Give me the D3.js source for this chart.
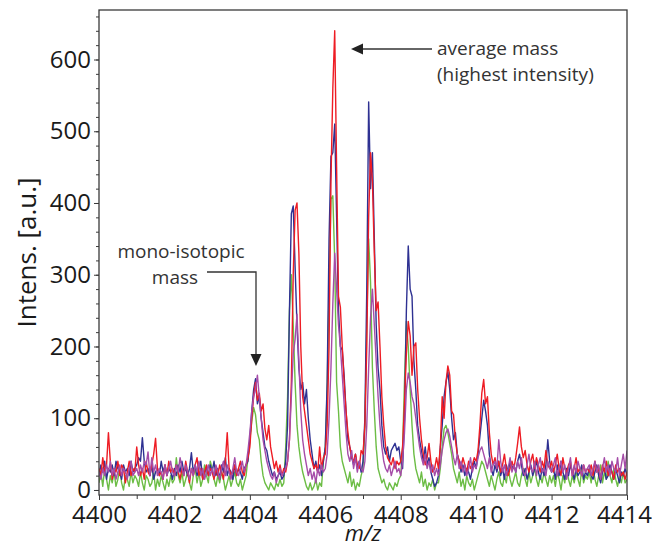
<!DOCTYPE html>
<html>
<head>
<meta charset="utf-8">
<script src="https://cdn.jsdelivr.net/npm/d3@7"></script>
<style>
  html, body { margin: 0; padding: 0; background: #fff; }
  svg { display: block; font-family: "Open Sans", "Noto Sans", sans-serif; }
</style>
</head>
<body>
<div id="chart"></div>
<script>
// MALDI spectrum, four overlaid replicates
// m/z sampling grid: start + step * index
const mzStart = 4400;
const mzStep = 0.05;

const redValues = [
  30,20,45,25,35,80,40,15,30,25,40,20,35,30,10,25,40,20,30,25,
  60,35,20,30,15,40,25,20,35,50,72,30,20,25,15,35,20,40,25,30,
  20,35,25,15,30,20,40,25,10,30,20,35,45,20,30,15,25,35,20,30,
  25,15,30,20,35,25,15,40,80,30,20,25,35,20,30,40,25,20,35,45,
  60,100,130,150,125,135,110,120,85,70,90,60,45,30,40,25,35,20,30,25,
  40,70,150,300,390,400,330,200,130,110,90,70,50,40,30,35,25,60,30,45,
  50,90,200,430,560,640,450,270,255,200,150,110,80,60,45,40,50,35,30,55,
  50,90,200,380,470,430,330,250,262,200,130,90,60,45,40,35,45,30,40,35,
  40,60,120,190,235,215,160,200,205,140,100,70,50,35,45,65,40,25,30,45,
  30,60,130,100,150,173,160,110,105,70,50,40,30,45,35,25,40,30,35,45,
  40,55,90,135,154,120,130,80,50,35,45,30,40,25,35,50,30,20,30,40,
  30,45,65,88,60,45,55,35,25,40,50,30,45,35,25,40,30,55,35,30,
  40,25,35,50,30,20,45,30,25,35,40,20,30,45,25,30,20,35,25,30,
  25,35,20,40,25,30,15,35,25,40,20,30,25,15,35,25,30,20,25,15,
  25
];

const blueValues = [
  20,35,25,40,15,30,25,35,20,40,30,25,15,35,25,30,20,40,25,30,
  35,45,40,73,40,25,30,20,35,15,25,30,20,40,25,35,20,30,25,15,
  30,20,35,25,40,25,30,20,30,52,25,35,20,30,40,15,25,30,20,35,
  25,40,20,30,15,35,25,45,20,30,25,15,35,20,30,25,15,30,35,40,
  70,110,140,155,120,130,100,80,60,55,40,30,20,25,15,20,25,15,20,40,
  90,250,385,396,310,230,170,140,150,120,140,100,70,50,30,40,25,35,20,40,
  60,150,350,465,470,510,380,250,200,195,160,110,70,60,45,35,50,30,40,25,
  40,100,280,541,420,470,350,230,170,140,90,60,50,60,40,55,60,65,55,60,
  40,30,100,250,340,280,270,180,140,90,70,55,40,60,35,45,25,15,5,10,
  20,60,90,130,150,165,140,100,70,80,50,40,25,35,20,30,25,15,30,40,
  30,50,75,100,125,110,90,50,30,20,35,25,40,20,30,15,35,25,40,30,
  35,25,40,50,35,20,30,15,25,35,20,30,40,25,15,30,20,35,70,40,
  25,30,15,35,20,40,25,15,30,20,35,25,15,30,20,25,35,15,25,20,
  30,20,15,25,35,20,10,25,30,15,20,35,25,15,30,20,10,25,20,30,
  20
];

const greenValues = [
  10,25,5,30,15,0,20,10,25,5,15,30,10,0,20,15,5,25,10,20,
  15,5,25,10,0,20,15,5,10,25,0,15,5,20,10,0,15,5,20,10,
  15,45,20,10,25,5,15,25,10,0,20,30,10,25,5,15,35,20,10,40,
  30,15,5,20,10,25,15,0,10,20,5,15,25,10,5,15,0,10,20,45,
  70,95,115,105,80,70,40,20,10,5,0,10,5,0,10,5,15,5,10,60,
  130,250,300,230,150,90,60,40,25,15,5,0,10,0,5,15,0,10,5,40,
  60,140,280,405,410,320,150,110,60,40,30,20,10,25,5,15,0,10,5,20,
  30,90,230,350,290,170,110,60,30,20,10,15,5,0,10,5,0,10,5,15,
  20,60,150,235,200,140,90,50,30,20,10,25,5,15,0,10,5,15,0,10,
  10,30,60,85,90,80,65,50,30,20,10,25,5,15,0,20,10,5,15,0,
  10,20,30,40,35,25,15,5,20,10,0,15,25,10,5,20,10,30,15,5,
  15,25,10,5,20,30,15,5,25,10,20,30,15,5,20,10,25,15,5,20,
  10,20,5,25,15,0,20,10,30,15,5,20,10,25,15,5,30,10,20,15,
  25,10,30,15,5,20,35,10,25,15,40,20,10,30,15,5,20,10,25,10,
  15
];

const purpleValues = [
  25,15,30,20,35,25,40,20,30,15,25,35,20,30,25,15,30,40,20,25,
  30,20,35,25,40,35,53,20,45,25,35,20,30,25,15,35,20,30,40,25,
  20,35,25,45,30,20,35,25,15,30,20,35,25,40,20,30,15,25,35,20,
  30,20,35,25,15,30,40,20,35,25,15,30,45,25,20,30,40,25,35,55,
  80,110,130,140,160,130,100,70,55,40,30,20,15,25,10,20,30,20,25,30,
  40,70,130,190,210,245,180,110,70,50,35,20,30,15,25,10,30,20,35,25,
  30,50,100,170,260,330,280,230,200,160,120,80,50,40,55,30,45,25,40,30,
  25,40,90,170,240,280,230,180,130,90,60,40,30,25,35,20,30,40,25,30,
  20,40,80,140,163,150,130,120,100,80,60,45,35,50,30,40,25,35,20,30,
  20,35,55,70,80,85,75,60,45,35,50,30,40,25,35,20,30,45,25,35,
  30,45,55,60,50,40,30,45,25,35,40,30,70,40,25,35,20,30,45,25,
  35,25,40,30,45,25,20,35,50,30,25,40,20,35,45,25,30,20,40,30,
  25,35,45,20,30,40,25,35,15,30,45,20,35,25,40,30,20,35,25,30,
  35,20,30,40,25,35,15,30,45,25,35,20,40,30,25,45,20,35,50,30,
  55
];

const xTicks = [4400, 4402, 4404, 4406, 4408, 4410, 4412, 4414];
const xMinorTicks = [4401, 4403, 4405, 4407, 4409, 4411, 4413];
const yTicks = [0, 100, 200, 300, 400, 500, 600];
const yMinorStep = 20;

// drawing order: first drawn ends up underneath
const series = [
  { name: 'green', color: '#6cbd45', values: greenValues },
  { name: 'blue', color: '#2e3192', values: blueValues },
  { name: 'red', color: '#ee1c24', values: redValues },
  { name: 'purple', color: '#a54ca8', values: purpleValues }
];

const W = 652, H = 548;
const M = { top: 10, right: 25, bottom: 53, left: 99 };
const iW = W - M.left - M.right;
const iH = H - M.top - M.bottom;

const svg = d3.select('#chart').append('svg')
  .attr('width', W).attr('height', H);

const g = svg.append('g').attr('transform', `translate(${M.left},${M.top})`);

const x = d3.scaleLinear().domain([4400, 4414]).range([0, iW]);
const y = d3.scaleLinear().domain([-7, 669]).range([iH, 0]);

svg.append('defs').append('clipPath').attr('id', 'plot-clip')
  .append('rect').attr('width', iW).attr('height', iH);

const line = d3.line()
  .x((d, i) => x(mzStart + mzStep * i))
  .y(d => y(d));

const traces = g.append('g').attr('clip-path', 'url(#plot-clip)');
series.forEach(s => {
  traces.append('path')
    .datum(s.values)
    .attr('fill', 'none')
    .attr('stroke', s.color)
    .attr('stroke-width', 1.4)
    .attr('stroke-linejoin', 'round')
    .attr('d', line);
});

// frame
g.append('rect')
  .attr('width', iW).attr('height', iH)
  .attr('fill', 'none').attr('stroke', '#3a3a3a').attr('stroke-width', 1.3);

// x axis
const xAxis = g.append('g').attr('transform', `translate(0,${iH})`)
  .call(d3.axisBottom(x).tickValues(xTicks).tickFormat(d3.format('d')).tickSize(5).tickPadding(6));
g.append('g').attr('transform', `translate(0,${iH})`)
  .call(d3.axisBottom(x).tickValues(xMinorTicks).tickFormat('').tickSize(4));

// y axis
const yAxis = g.append('g')
  .call(d3.axisLeft(y).tickValues(yTicks).tickSize(5).tickPadding(3));
g.append('g')
  .call(d3.axisLeft(y).tickValues(d3.range(0, 661, yMinorStep)).tickFormat('').tickSize(3));

g.selectAll('.domain').remove();
g.selectAll('.tick line').attr('stroke', '#3a3a3a');
g.selectAll('.tick text').attr('fill', '#1a1a1a').attr('font-size', 24)
  .attr('font-family', '"Open Sans", "Noto Sans", sans-serif');
// last x label sits against the right edge of the picture
xAxis.selectAll('.tick text').filter(d => d === 4414).attr('dx', -3);

// axis titles
svg.append('text')
  .attr('transform', `translate(36,${M.top + iH / 2}) rotate(-90)`)
  .attr('text-anchor', 'middle')
  .attr('font-size', 26).attr('fill', '#1a1a1a')
  .text('Intens. [a.u.]');

svg.append('text')
  .attr('x', M.left + iW / 2).attr('y', 541)
  .attr('text-anchor', 'middle')
  .attr('font-size', 22).attr('font-style', 'italic').attr('fill', '#1a1a1a')
  .text('m/z');

// annotations
const ann = svg.append('g').attr('fill', '#333').attr('font-size', 19);
ann.append('text').attr('x', 437).attr('y', 55).text('average mass');
ann.append('text').attr('x', 437).attr('y', 81).text('(highest intensity)');
ann.append('text').attr('x', 181).attr('y', 258).attr('text-anchor', 'middle').text('mono-isotopic');
ann.append('text').attr('x', 175).attr('y', 284).attr('text-anchor', 'middle').text('mass');

const arrows = svg.append('g');
arrows.append('line')
  .attr('x1', 432).attr('y1', 49).attr('x2', 360).attr('y2', 49)
  .attr('stroke', '#333').attr('stroke-width', 1.3);
arrows.append('path')
  .attr('d', 'M351,49 L363,43.5 L363,54.5 Z').attr('fill', '#222');

arrows.append('path')
  .attr('d', 'M207,272 L256,272 L256,356')
  .attr('fill', 'none').attr('stroke', '#333').attr('stroke-width', 1.3);
arrows.append('path')
  .attr('d', 'M256,366 L250.5,354 L261.5,354 Z').attr('fill', '#222');
</script>
</body>
</html>
